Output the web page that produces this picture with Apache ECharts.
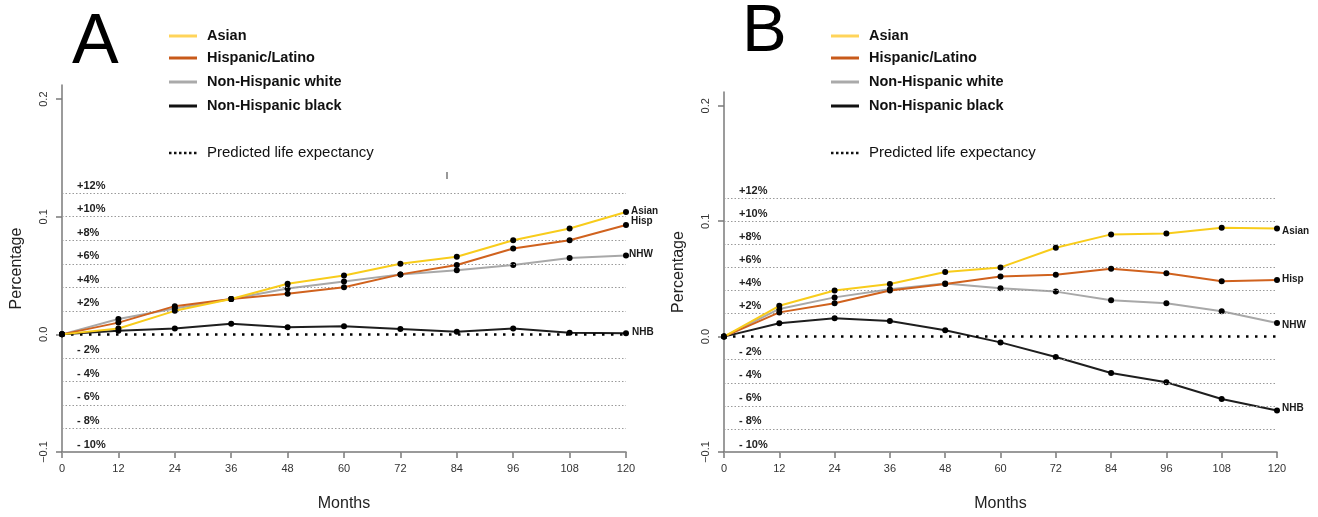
<!DOCTYPE html>
<html>
<head>
<meta charset="utf-8">
<script src="https://cdn.jsdelivr.net/npm/echarts@6/dist/echarts.min.js"></script>
<style>html,body{margin:0;padding:0;background:#fff;}#c{width:1318px;height:517px;}</style>
</head>
<body>
<div id="c"></div>
<script>
// ---- data ----
var months = [0, 12, 24, 36, 48, 60, 72, 84, 96, 108, 120];
var asianA = [0, 0.005, 0.020, 0.030, 0.043, 0.050, 0.060, 0.066, 0.080, 0.090, 0.104];
var hispA  = [0, 0.010, 0.024, 0.030, 0.0345, 0.040, 0.051, 0.059, 0.073, 0.080, 0.093];
var nhwA   = [0, 0.013, 0.022, 0.030, 0.039, 0.045, 0.051, 0.0545, 0.059, 0.065, 0.067];
var nhbA   = [0, 0.003, 0.005, 0.009, 0.006, 0.0068, 0.0045, 0.0023, 0.005, 0.0014, 0.001];
var asianB = [0, 0.0267, 0.040, 0.0456, 0.056, 0.060, 0.077, 0.0886, 0.0894, 0.0943, 0.0937];
var hispB  = [0, 0.021, 0.029, 0.040, 0.0456, 0.052, 0.0537, 0.0588, 0.055, 0.048, 0.049];
var nhwB   = [0, 0.024, 0.034, 0.041, 0.046, 0.042, 0.039, 0.0316, 0.029, 0.022, 0.0118];
var nhbB   = [0, 0.0115, 0.016, 0.0135, 0.0055, -0.005, -0.0177, -0.0315, -0.0395, -0.054, -0.064];
var refLevels = [0.12, 0.10, 0.08, 0.06, 0.04, 0.02, -0.02, -0.04, -0.06, -0.08, -0.10];
var refLabels = ['+12%', '+10%', '+8%', '+6%', '+4%', '+2%', '- 2%', '- 4%', '- 6%', '- 8%', '- 10%'];
var yTicks = [-0.1, 0, 0.1, 0.2];
var legendNames = ['Asian', 'Hispanic/Latino', 'Non-Hispanic white', 'Non-Hispanic black'];
var endNames = ['Asian', 'Hisp', 'NHW', 'NHB'];

// ---- styles ----
var colors = ['#F8CC1B', '#D0621E', '#A8A8A8', '#1E1E1E'];
var legendColors = ['#FFD45A', '#C85A1A', '#AAAAAA', '#111111'];
var axisColor = '#7a7a7a';
var FONT = 'Liberation Sans, Arial, sans-serif';

var chart = echarts.init(document.getElementById('c'), null, {renderer: 'canvas'});

function xAxisDef(gi) {
  return {
    type: 'value', gridIndex: gi, min: 0, max: 120, interval: 12,
    name: 'Months', nameLocation: 'middle', nameGap: 44,
    nameTextStyle: {fontSize: 16, color: '#222', fontFamily: FONT},
    axisLine: {onZero: false, lineStyle: {color: axisColor, width: 1.5}},
    axisTick: {length: 6, lineStyle: {color: axisColor, width: 1.5}},
    axisLabel: {fontSize: 11, color: '#333', margin: 11, fontFamily: FONT},
    splitLine: {show: false}
  };
}
function yAxisDef(gi) {
  return {
    type: 'value', gridIndex: gi, min: -0.1, max: 0.212,
    name: 'Percentage', nameLocation: 'middle', nameGap: 37,
    nameTextStyle: {fontSize: 16, color: '#222', fontFamily: FONT},
    axisLine: {onZero: false, lineStyle: {color: axisColor, width: 1.5}},
    axisTick: {length: 6, customValues: yTicks, lineStyle: {color: axisColor, width: 1.5}},
    axisLabel: {
      fontSize: 11, color: '#333', rotate: 90, margin: 13, fontFamily: FONT,
      customValues: yTicks,
      formatter: function (v) {
        var s = Math.abs(v).toFixed(1);
        return v < 0 ? '\u2212' + s : s;
      }
    },
    splitLine: {show: false}
  };
}

function refMarkLine() {
  var data = refLevels.map(function (v, i) {
    return {
      yAxis: v,
      lineStyle: {color: '#9a9a9a', width: 1, type: [1.5, 2]},
      label: {formatter: refLabels[i]}
    };
  });
  data.push({yAxis: 0, lineStyle: {color: '#000', width: 2.5, type: [2.5, 6.5]}, label: {show: false}});
  return {
    silent: true, symbol: ['none', 'none'], animation: false,
    label: {show: true, position: 'insideStartTop', distance: [15, 2], fontSize: 11, fontWeight: 'bold', color: '#222', fontFamily: FONT},
    data: data
  };
}

function pair(arr) { return months.map(function (m, i) { return [m, arr[i]]; }); }

function lineSeries(gi, idx, arr, offset, withRef) {
  var s = {
    type: 'line', xAxisIndex: gi, yAxisIndex: gi,
    data: pair(arr), symbol: 'circle', symbolSize: 6,
    itemStyle: {color: '#000'},
    lineStyle: {color: colors[idx], width: 2},
    z: 3 + (3 - idx),
    endLabel: {show: true, formatter: endNames[idx], distance: 5, offset: offset,
      fontSize: 10, fontWeight: 'bold', color: '#1a1a1a', fontFamily: FONT},
    animation: false
  };
  if (withRef) s.markLine = refMarkLine();
  return s;
}

var graphics = [];
function legend(x0, letter, lx, ly, lsize) {
  graphics.push({type: 'text', x: lx, y: ly, style: {text: letter, font: 'normal ' + lsize + 'px ' + FONT, fill: '#000', verticalAlign: 'middle', align: 'left'}});
  var rows = [36, 58, 82, 106];
  for (var i = 0; i < 4; i++) {
    graphics.push({type: 'line', shape: {x1: x0, y1: rows[i], x2: x0 + 28, y2: rows[i]}, style: {stroke: legendColors[i], lineWidth: 3}});
    graphics.push({type: 'text', x: x0 + 38, y: rows[i], style: {text: legendNames[i], font: 'bold 14.5px ' + FONT, fill: '#111', verticalAlign: 'middle'}});
  }
  graphics.push({type: 'line', shape: {x1: x0, y1: 153, x2: x0 + 28, y2: 153}, style: {stroke: '#111', lineWidth: 2.5, lineDash: [2.5, 2.5]}});
  graphics.push({type: 'text', x: x0 + 38, y: 153, style: {text: 'Predicted life expectancy', font: 'normal 15px ' + FONT, fill: '#111', verticalAlign: 'middle'}});
}
legend(169, 'A', 72, 44, 70);
legend(831, 'B', 742, 33, 67);
graphics.push({type: 'line', shape: {x1: 447, y1: 172, x2: 447, y2: 179}, style: {stroke: '#777', lineWidth: 1.5}});

var option = {
  animation: false,
  backgroundColor: '#fff',
  grid: [
    {left: 62, right: 692, top: 85, bottom: 64},
    {left: 724, right: 41, top: 92, bottom: 62}
  ],
  xAxis: [xAxisDef(0), xAxisDef(1)],
  yAxis: [yAxisDef(0), yAxisDef(1)],
  series: [
    lineSeries(0, 3, nhbA, [1, -1], true),
    lineSeries(0, 2, nhwA, [-2, -1], false),
    lineSeries(0, 1, hispA, [0, -4], false),
    lineSeries(0, 0, asianA, [0, -1], false),
    lineSeries(1, 3, nhbB, [0, -2], true),
    lineSeries(1, 2, nhwB, [0, 2], false),
    lineSeries(1, 1, hispB, [0, -1], false),
    lineSeries(1, 0, asianB, [0, 3], false)
  ],
  graphic: graphics
};
chart.setOption(option);
</script>
</body>
</html>
